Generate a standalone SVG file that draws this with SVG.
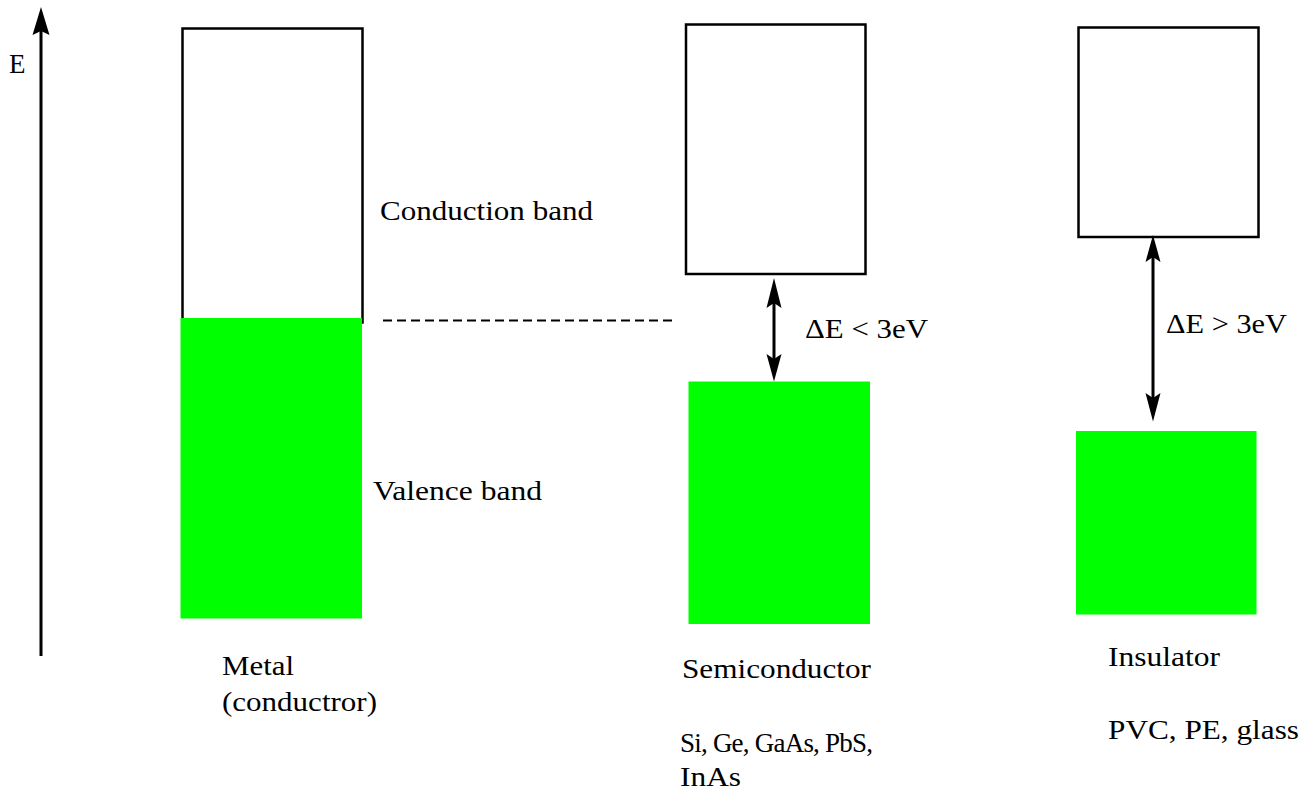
<svg xmlns="http://www.w3.org/2000/svg" width="1303" height="791" viewBox="0 0 1303 791">
<style>
.box{fill:#fff;stroke:#000;stroke-width:2.5}
.band{fill:#00ff00;stroke:none}
.t{font-family:"Liberation Serif","Times New Roman",serif;font-size:27px;fill:#000}
.ln{stroke:#000;stroke-width:3;fill:none}
</style>
<rect width="1303" height="791" fill="#fff"/>
<g id="axis">
<line class="ln" x1="41" y1="656" x2="41" y2="30"/>
<polygon points="41,7 49.5,35 41,31 32.5,35" fill="#000"/>
<text class="t" x="9" y="73" font-size="24">E</text>
</g>
<g id="metal">
<rect class="box" x="182.5" y="28.5" width="180" height="294"/>
<rect class="band" x="180.5" y="318" width="181.5" height="300.5"/>
<text class="t" x="380" y="220" textLength="213" lengthAdjust="spacingAndGlyphs">Conduction band</text>
<text class="t" x="373" y="499.5" textLength="169" lengthAdjust="spacingAndGlyphs">Valence band</text>
<text class="t" x="222" y="675" textLength="72" lengthAdjust="spacingAndGlyphs">Metal</text>
<text class="t" x="222" y="710.5" textLength="155" lengthAdjust="spacingAndGlyphs">(conductror)</text>
</g>
<g id="semiconductor">
<rect class="box" x="686" y="24.5" width="179.5" height="249.5"/>
<rect class="band" x="688.5" y="381.5" width="181.5" height="242.5"/>
<text class="t" x="805" y="338" textLength="123" lengthAdjust="spacingAndGlyphs">ΔE &lt; 3eV</text>
<text class="t" x="682" y="677.5" textLength="189" lengthAdjust="spacingAndGlyphs">Semiconductor</text>
<text class="t" x="680" y="752" textLength="193" lengthAdjust="spacing">Si, Ge, GaAs, PbS,</text>
<text class="t" x="680" y="786" textLength="61" lengthAdjust="spacingAndGlyphs">InAs</text>
</g>
<g id="insulator">
<rect class="box" x="1078.5" y="27.5" width="180" height="209.5"/>
<rect class="band" x="1076" y="431" width="180.5" height="183.5"/>
<text class="t" x="1166" y="333" textLength="121" lengthAdjust="spacingAndGlyphs">ΔE &gt; 3eV</text>
<text class="t" x="1108" y="666" textLength="112" lengthAdjust="spacingAndGlyphs">Insulator</text>
<text class="t" x="1108" y="739" textLength="191" lengthAdjust="spacingAndGlyphs">PVC, PE, glass</text>
</g>
<g id="connectors">
<line x1="383" y1="320.5" x2="676" y2="320.5" stroke="#000" stroke-width="2" stroke-dasharray="9,5"/>
<line class="ln" x1="774" y1="300" x2="774" y2="360"/>
<polygon points="774,278 781.5,308 774,303 766.5,308" fill="#000"/>
<polygon points="774,381.5 781.5,354 774,359 766.5,354" fill="#000"/>
<line class="ln" x1="1153" y1="255" x2="1153" y2="400"/>
<polygon points="1153,235 1160.5,262 1153,257 1145.5,262" fill="#000"/>
<polygon points="1153,421.5 1160.5,393 1153,398 1145.5,393" fill="#000"/>
</g>
</svg>
